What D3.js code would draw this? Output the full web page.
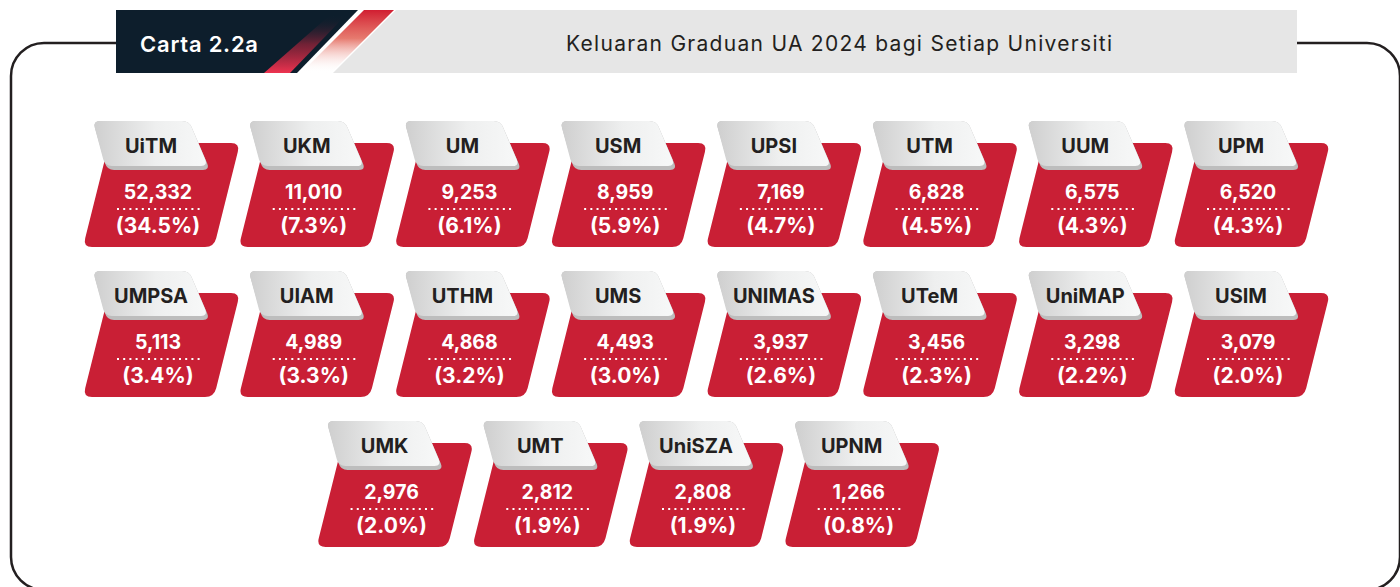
<!DOCTYPE html>
<meta charset="utf-8">
<script src="https://cdn.jsdelivr.net/npm/d3@7"></script>
<style>
	body{
		margin:0;
		background:#fff;
		font-family: 'Inter', sans-serif;
	}
</style>
<div id="chart"></div>
<script>

	// graduates by university, 2024
	var universities = ["UiTM","UKM","UM","USM","UPSI","UTM","UUM","UPM",
		"UMPSA","UIAM","UTHM","UMS","UNIMAS","UTeM","UniMAP","USIM",
		"UMK","UMT","UniSZA","UPNM"]
	var graduates = [52332,11010,9253,8959,7169,6828,6575,6520,
		5113,4989,4868,4493,3937,3456,3298,3079,
		2976,2812,2808,1266]
	var shares = [34.5,7.3,6.1,5.9,4.7,4.5,4.3,4.3,
		3.4,3.3,3.2,3.0,2.6,2.3,2.2,2.0,
		2.0,1.9,1.9,0.8]

	var chartLabel = "Carta 2.2a"
	var chartTitle = "Keluaran Graduan UA 2024 bagi Setiap Universiti"

	var w = 1400
	var h = 587
	var perRow = 8
	var red = "#C91F35"
	var ink = "#231F20"

	var svg = d3.select("#chart").append("svg")
		.attr("width",w)
		.attr("height",h)

	var defs = svg.append("defs")

	var tabGrad = defs.append("linearGradient").attr("id","tabGrad")
	tabGrad.append("stop").attr("offset","0%").attr("stop-color","#CFCFCF")
	tabGrad.append("stop").attr("offset","55%").attr("stop-color","#EEEFEF")
	tabGrad.append("stop").attr("offset","100%").attr("stop-color","#F7F8F8")

	var stripeGrad = defs.append("linearGradient").attr("id","stripeGrad")
		.attr("x1",0).attr("y1",0).attr("x2",0).attr("y2",1)
	stripeGrad.append("stop").attr("offset","0%").attr("stop-color","#D11E31")
	stripeGrad.append("stop").attr("offset","45%").attr("stop-color","#E0584A").attr("stop-opacity",0.8)
	stripeGrad.append("stop").attr("offset","100%").attr("stop-color","#fff").attr("stop-opacity",0)

	var innerGrad = defs.append("linearGradient").attr("id","innerGrad")
		.attr("x1",0).attr("y1",1).attr("x2",0).attr("y2",0)
	innerGrad.append("stop").attr("offset","0%").attr("stop-color","#EE3350")
	innerGrad.append("stop").attr("offset","50%").attr("stop-color","#B3243C").attr("stop-opacity",0.6)
	innerGrad.append("stop").attr("offset","100%").attr("stop-color","#0D1E2C").attr("stop-opacity",0)

	// outer frame
	svg.append("path")
		.attr("d","M116,43 H44 A33,33 0 0 0 11,76 V557 A33,33 0 0 0 44,590 H1367 A33,33 0 0 0 1400,557 V76 A33,33 0 0 0 1367,43 H1297")
		.attr("fill","none")
		.attr("stroke",ink)
		.attr("stroke-width",2.5)

	// header band
	var head = svg.append("g")
	head.append("polygon").attr("points","396,10 1297,10 1297,73 333,73").attr("fill","#E6E6E6")
	head.append("polygon").attr("points","116,10 358,10 297,73 116,73").attr("fill","#0D1E2C")
	head.append("polygon").attr("points","364,10 394,10 331,73 301,73").attr("fill","url(#stripeGrad)")
	head.append("polygon").attr("points","264,73 290,73 346,15 330,15").attr("fill","url(#innerGrad)")

	head.append("text").text(chartLabel)
		.attr("x",140).attr("y",52)
		.attr("fill","#fff")
		.attr("textLength",118)
		.attr("lengthAdjust","spacing")
		.style("font-size","22px")
		.style("font-weight",600)

	head.append("text").text(chartTitle)
		.attr("x",566).attr("y",51)
		.attr("fill",ink)
		.attr("textLength",546)
		.attr("lengthAdjust","spacing")
		.style("font-size","21px")
		.style("font-weight",400)

	// rounded polygon helper
	function roundPoly(pts, r){
		var n = pts.length
		var d = ""
		for(var i = 0; i<n; i++){
			var p0 = pts[(i-1+n)%n], p1 = pts[i], p2 = pts[(i+1)%n]
			var a = [p0[0]-p1[0],p0[1]-p1[1]], b = [p2[0]-p1[0],p2[1]-p1[1]]
			var la = Math.hypot(a[0],a[1]), lb = Math.hypot(b[0],b[1])
			var s = [p1[0]+a[0]/la*r, p1[1]+a[1]/la*r]
			var e = [p1[0]+b[0]/lb*r, p1[1]+b[1]/lb*r]
			d += (i==0?"M":"L")+s[0]+","+s[1]+" Q"+p1[0]+","+p1[1]+" "+e[0]+","+e[1]+" "
		}
		return d+"Z"
	}

	var colScale = d3.scaleLinear().domain([0,perRow-1]).range([83,1173])
	var rowScale = d3.scaleLinear().domain([0,2]).range([143,443])
	var fmt = d3.format(",")

	var cards = universities.map(function(u,i){
		var row = Math.floor(i/perRow)
		var col = i%perRow
		// last row starts one and a half cards in
		if(row==2) col += 1.5
		return {name:u, value:graduates[i], share:shares[i], x:colScale(col), y:rowScale(row)}
	})

	var card = svg.append("g").selectAll("g")
		.data(cards)
		.join("g")
		.attr("transform",function(d){ return "translate("+d.x+","+d.y+")" })

	card.append("path")
		.attr("d",roundPoly([[26,0],[157,0],[131,104],[0,104]],9))
		.attr("fill",red)

	card.append("path")
		.attr("d",roundPoly([[10,-22],[106,-22],[127,27],[24,27]],7))
		.attr("fill","#BDBDBD")
	card.append("path")
		.attr("d",roundPoly([[10,-22],[106,-22],[125,23],[22,23]],7))
		.attr("fill","url(#tabGrad)")

	card.append("text").text(function(d){ return d.name })
		.attr("x",68).attr("y",10)
		.attr("text-anchor","middle")
		.attr("fill",ink)
		.style("font-size","20px")
		.style("font-weight",700)

	card.append("text").text(function(d){ return fmt(d.value) })
		.attr("x",75).attr("y",56)
		.attr("text-anchor","middle")
		.attr("fill","#fff")
		.style("font-size","19.5px")
		.style("font-weight",700)

	card.append("line")
		.attr("x1",34).attr("x2",120)
		.attr("y1",66).attr("y2",66)
		.attr("stroke","#fff")
		.attr("stroke-width",2)
		.attr("stroke-dasharray","2,4.2")

	card.append("text").text(function(d){ return "("+d.share.toFixed(1)+"%)" })
		.attr("x",75).attr("y",90)
		.attr("text-anchor","middle")
		.attr("fill","#fff")
		.style("font-size","21px")
		.style("font-weight",700)

</script>
